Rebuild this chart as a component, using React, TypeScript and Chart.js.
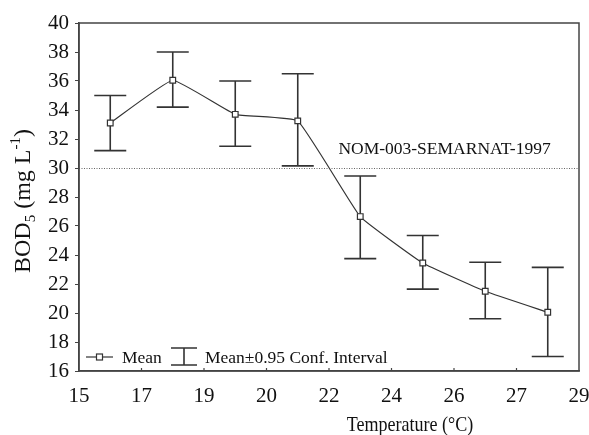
import React, { useEffect, useRef } from "react";
import { Chart, registerables } from "chart.js";

Chart.register(...registerables);

// ---- data ----
const xTickLabels = ["15", "17", "19", "20", "22", "24", "26", "27", "29"];
const xPositions = [0.5, 1.5, 2.5, 3.5, 4.5, 5.5, 6.5, 7.5];
const meanValues = [33.1, 36.05, 33.7, 33.25, 26.65, 23.45, 21.5, 20.05];
const upperValues = [35.0, 38.0, 36.0, 36.5, 29.45, 25.35, 23.5, 23.15];
const lowerValues = [31.2, 34.2, 31.5, 30.15, 23.75, 21.65, 19.6, 17.0];
const yTickValues = [16, 18, 20, 22, 24, 26, 28, 30, 32, 34, 36, 38, 40];
const limitValue = 30;
const limitLabel = "NOM-003-SEMARNAT-1997";
const legendMean = "Mean";
const legendCI = "Mean\u00B10.95 Conf. Interval";
const xTitle = "Temperature (\u00B0C)";

const SERIF = "'Liberation Serif', 'DejaVu Serif', serif";
const INK = "#333333";
const TEXT = "#111111";

const decorPlugin = {
  id: "decor",
  beforeDatasetsDraw(chart: any) {
    const { ctx, chartArea, scales } = chart;
    const xs = scales.x;
    const ys = scales.y;
    ctx.save();
    // dotted limit line
    const yl = Math.round(ys.getPixelForValue(limitValue)) + 0.5;
    ctx.strokeStyle = "#666";
    ctx.lineWidth = 1;
    ctx.setLineDash([1, 1.5]);
    ctx.beginPath();
    ctx.moveTo(chartArea.left, yl);
    ctx.lineTo(chartArea.right, yl);
    ctx.stroke();
    ctx.setLineDash([]);
    // error bars
    ctx.strokeStyle = INK;
    ctx.lineWidth = 1.6;
    const cap = 16;
    xPositions.forEach((p, i) => {
      const x = xs.getPixelForValue(p);
      const yt = ys.getPixelForValue(upperValues[i]);
      const yb = ys.getPixelForValue(lowerValues[i]);
      ctx.beginPath();
      ctx.moveTo(x, yt);
      ctx.lineTo(x, yb);
      ctx.moveTo(x - cap, yt);
      ctx.lineTo(x + cap, yt);
      ctx.moveTo(x - cap, yb);
      ctx.lineTo(x + cap, yb);
      ctx.stroke();
    });
    ctx.restore();
  },
  afterDraw(chart: any) {
    const { ctx, chartArea, scales } = chart;
    const xs = scales.x;
    const ys = scales.y;
    const { left, right, top, bottom } = chartArea;
    ctx.save();
    // frame
    ctx.strokeStyle = "#444";
    ctx.lineWidth = 1.5;
    ctx.strokeRect(left, top, right - left, bottom - top);
    // inner x ticks
    ctx.lineWidth = 1.2;
    for (let v = 1; v < xTickLabels.length - 1; v++) {
      const x = xs.getPixelForValue(v);
      ctx.beginPath();
      ctx.moveTo(x, bottom);
      ctx.lineTo(x, bottom - 3);
      ctx.stroke();
    }
    // limit label
    ctx.fillStyle = TEXT;
    ctx.font = `17.5px ${SERIF}`;
    ctx.textAlign = "left";
    ctx.textBaseline = "alphabetic";
    ctx.fillText(limitLabel, xs.getPixelForValue(4.15), ys.getPixelForValue(limitValue) - 14);

    // legend
    const ly = bottom - 14;
    ctx.strokeStyle = INK;
    ctx.lineWidth = 1.2;
    ctx.beginPath();
    ctx.moveTo(left + 7, ly);
    ctx.lineTo(left + 34, ly);
    ctx.stroke();
    ctx.fillStyle = "#fff";
    ctx.fillRect(left + 17.5, ly - 3, 6, 6);
    ctx.strokeRect(left + 17.5, ly - 3, 6, 6);
    ctx.fillStyle = TEXT;
    ctx.font = `17.5px ${SERIF}`;
    ctx.fillText(legendMean, left + 43, ly + 6);
    ctx.lineWidth = 1.6;
    const ex = left + 105;
    ctx.beginPath();
    ctx.moveTo(ex - 13, ly - 9);
    ctx.lineTo(ex + 13, ly - 9);
    ctx.moveTo(ex, ly - 9);
    ctx.lineTo(ex, ly + 8);
    ctx.moveTo(ex - 13, ly + 8);
    ctx.lineTo(ex + 13, ly + 8);
    ctx.stroke();
    ctx.fillText(legendCI, left + 126, ly + 6);

    // x title (slightly condensed like the reference)
    ctx.save();
    ctx.font = `22px ${SERIF}`;
    ctx.textAlign = "center";
    ctx.translate(410, 431);
    ctx.scale(0.82, 1);
    ctx.fillText(xTitle, 0, 0);
    ctx.restore();

    // y title with sub/superscripts
    const big = `24px ${SERIF}`;
    const small = `15px ${SERIF}`;
    const parts: [string, string, number][] = [
      ["BOD", big, 0],
      ["5", small, 5],
      [" (mg L", big, 0],
      ["-1", small, -10],
      [")", big, 0],
    ];
    let total = 0;
    parts.forEach(([t, f]) => {
      ctx.font = f;
      total += ctx.measureText(t).width;
    });
    ctx.translate(22, 201);
    ctx.rotate(-Math.PI / 2);
    ctx.textAlign = "left";
    let cx = -total / 2;
    parts.forEach(([t, f, dy]) => {
      ctx.font = f;
      ctx.fillText(t, cx, 8 + dy);
      cx += ctx.measureText(t).width;
    });
    ctx.restore();
  },
};

export default function App() {
  const ref = useRef<HTMLCanvasElement | null>(null);
  useEffect(() => {
    if (!ref.current) return;
    const chart = new Chart(ref.current, {
      type: "line",
      data: {
        datasets: [
          {
            label: legendMean,
            data: xPositions.map((x, i) => ({ x, y: meanValues[i] })),
            borderColor: INK,
            borderWidth: 1.2,
            tension: 0.1,
            pointStyle: "rect",
            pointRadius: 4,
            pointBorderWidth: 1.2,
            pointBackgroundColor: "#fff",
            pointBorderColor: INK,
          },
        ],
      },
      options: {
        responsive: false,
        animation: false,
        devicePixelRatio: 1,
        layout: { padding: { top: 23, right: 10, left: 0, bottom: 0 } },
        plugins: { legend: { display: false }, tooltip: { enabled: false } },
        scales: {
          x: {
            type: "linear",
            min: 0,
            max: 8,
            afterFit: (s: any) => {
              s.height = 64;
              s.paddingLeft = 0;
              s.paddingRight = 0;
            },
            border: { display: true, color: "#444", width: 1.5 },
            grid: { display: false, drawTicks: false },
            ticks: {
              stepSize: 1,
              padding: 13,
              color: TEXT,
              font: { family: SERIF, size: 21 },
              maxRotation: 0,
              callback: (v: any) => xTickLabels[v] ?? "",
            },
          },
          y: {
            type: "linear",
            min: yTickValues[0],
            max: yTickValues[yTickValues.length - 1],
            afterFit: (s: any) => {
              s.width = 79;
              s.paddingTop = 0;
              s.paddingBottom = 0;
            },
            border: { display: true, color: "#444", width: 1.5 },
            grid: { display: true, drawOnChartArea: false, drawTicks: true, tickLength: 4, color: "#444" },
            ticks: {
              stepSize: 2,
              padding: 6,
              color: TEXT,
              font: { family: SERIF, size: 21 },
            },
          },
        },
      },
      plugins: [decorPlugin],
    } as any);
    return () => chart.destroy();
  }, []);
  return (
    <div style={{ position: "absolute", left: 0, top: 0, width: 589, height: 435, background: "#fff" }}>
      <canvas ref={ref} width={589} height={435} />
    </div>
  );
}
